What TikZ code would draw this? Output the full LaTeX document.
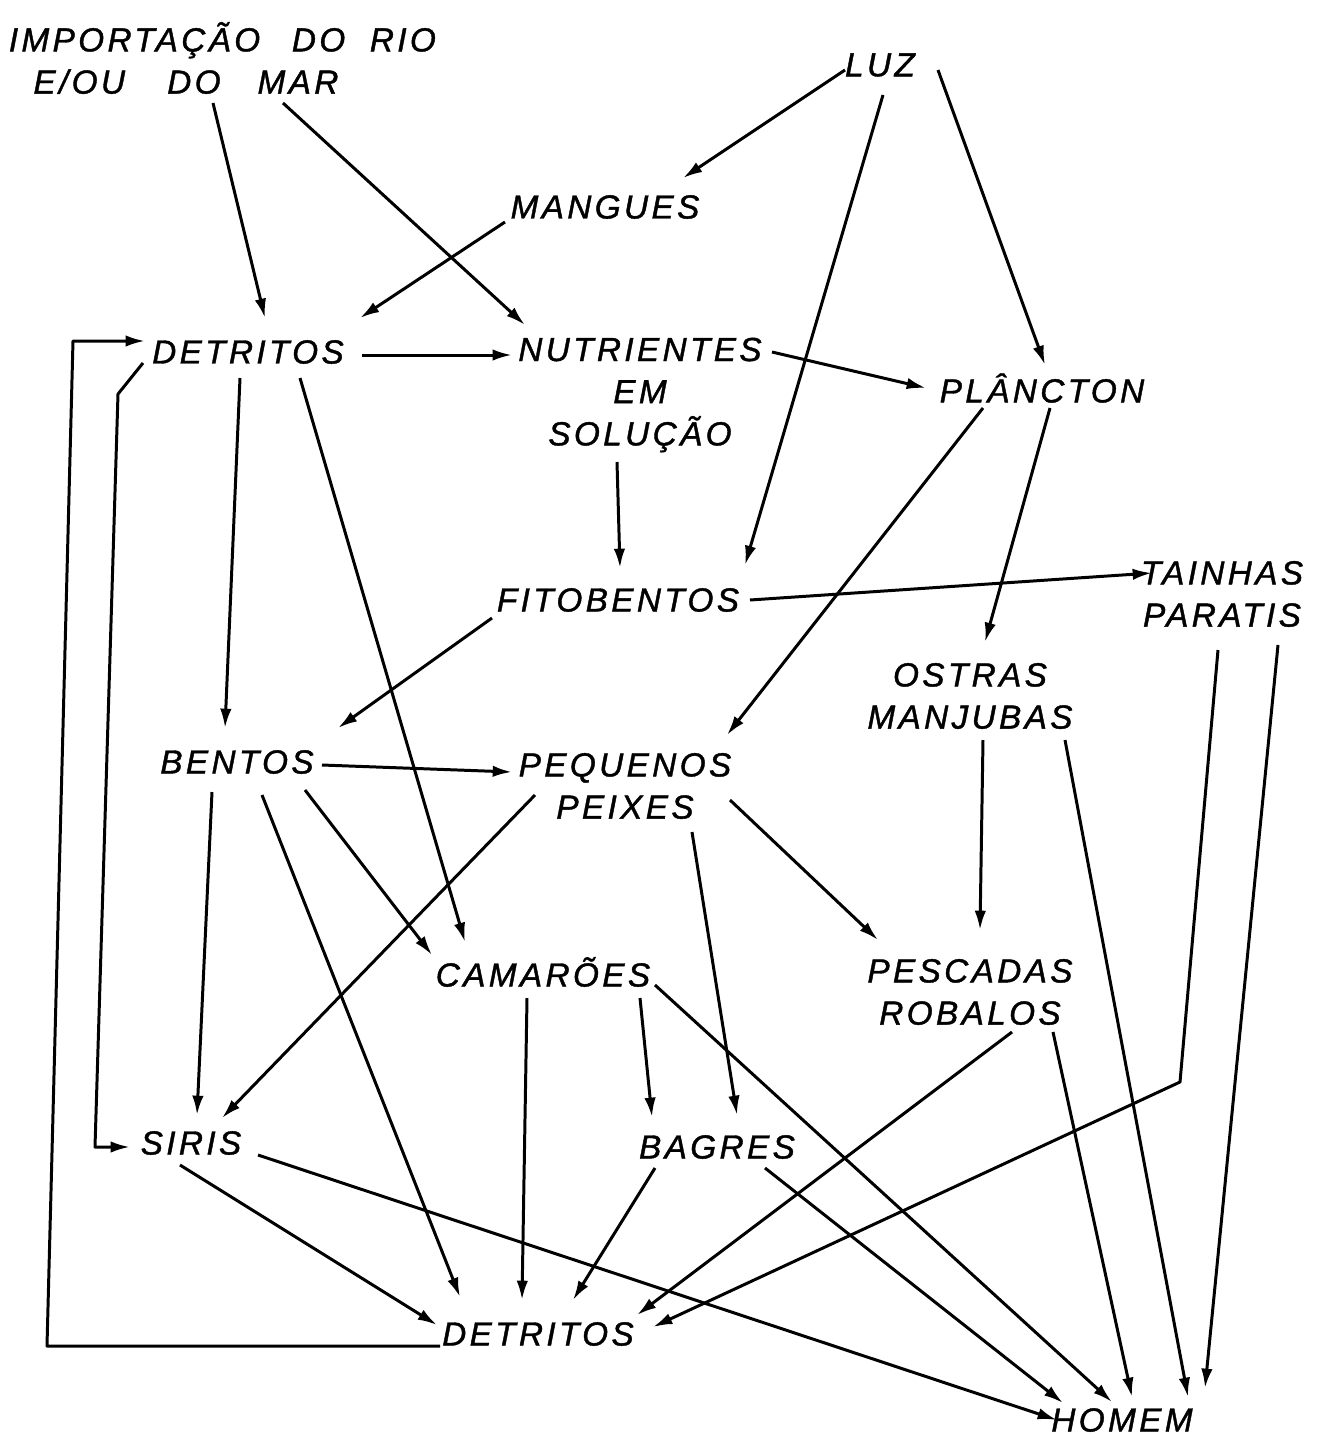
\documentclass[tikz,border=0pt]{standalone}
\usepackage{fontspec}
\setmainfont{Liberation Sans}
\newfontfamily\letrafont{Liberation Sans}[LetterSpace=10, FakeBold=1.2]
\usetikzlibrary{arrows.meta, calc}
\tikzset{
  fw/lbl/.style={font=\letrafont\itshape\fontsize{19}{24}\selectfont,
    align=center, inner sep=2pt},
  fw/arr/.style={-{Latex[length=11pt,width=6.5pt]}, line width=1.7pt,
    line join=round}
}

\begin{document}
\begin{tikzpicture}[x=0.02cm, y=-0.02cm]
  \useasboundingbox (0,0) rectangle (1325,1441);

  % compartimentos
  \node[fw/lbl, align=left, anchor=west] (imp) at (5,58)
        {IMPORTAÇÃO\hspace{18pt}DO\hspace{14pt}RIO\\
         \hspace*{14pt}E/OU\hspace{24pt}DO\hspace{21pt}MAR};
  \node[fw/lbl] (luz)   at (880,65)   {LUZ};
  \node[fw/lbl] (mang)  at (605,207)  {MANGUES};
  \node[fw/lbl] (detA)  at (248,352)  {DETRITOS};
  \node[fw/lbl] (nutr)  at (640,395)  {NUTRIENTES\\EM\\SOLUÇÃO};
  \node[fw/lbl] (planc) at (1042,388) {PLÂNCTON};
  \node[fw/lbl] (fito)  at (618,600)  {FITOBENTOS};
  \node[fw/lbl] (tain)  at (1222,594) {TAINHAS\\PARATIS};
  \node[fw/lbl] (ostr)  at (970,696)  {OSTRAS\\MANJUBAS};
  \node[fw/lbl] (bent)  at (237,762)  {BENTOS};
  \node[fw/lbl] (peq)   at (625,786)  {PEQUENOS\\PEIXES};
  \node[fw/lbl] (cam)   at (543,972)  {CAMARÕES};
  \node[fw/lbl] (pesc)  at (970,992)  {PESCADAS\\ROBALOS};
  \node[fw/lbl] (sir)   at (191,1143) {SIRIS};
  \node[fw/lbl] (bag)   at (717,1147) {BAGRES};
  \node[fw/lbl] (detB)  at (538,1334) {DETRITOS};
  \node[fw/lbl] (hom)   at (1122,1420) {HOMEM};

  % entradas
  \draw[fw/arr] ($(imp.west)+(208,45)$) -- ($(detA)+(17,-34)$);
  \draw[fw/arr] ($(imp.west)+(278,45)$) -- ($(nutr)+(-115,-70)$);
  \draw[fw/arr] ($(luz)+(-35,5)$)  -- ($(mang)+(78,-29)$);
  \draw[fw/arr] ($(luz)+(3,30)$)   -- ($(fito)+(127,-35)$);
  \draw[fw/arr] ($(luz)+(58,5)$)   -- ($(planc)+(3,-23)$);
  \draw[fw/arr] ($(mang)+(-100,15)$) -- ($(detA)+(112,-34)$);

  % detritos e nutrientes
  \draw[fw/arr] ($(detA)+(114,3)$) -- ($(nutr)+(-128,-40)$);
  \draw[fw/arr] ($(nutr)+(132,-43)$) -- ($(planc)+(-116,0)$);
  \draw[fw/arr] ($(nutr)+(-23,67)$) -- ($(fito)+(2,-32)$);
  \draw[fw/arr] ($(detA)+(-8,26)$) -- ($(bent)+(-12,-34)$);
  \draw[fw/arr] ($(detA)+(52,26)$) -- ($(cam)+(-78,-30)$);
  \draw[fw/arr] ($(detA)+(-105,11)$) -- ++(-25,31)
        -- ($(sir)+(-96,4)$) -- ($(sir)+(-61,4)$);
  \draw[fw/arr] ($(detB)+(-98,12)$) -- (47,1346)
        -- ($(detA)+(-175,-11)$) -- ($(detA)+(-103,-11)$);

  % produtores
  \draw[fw/arr] ($(fito)+(132,0)$)   -- ($(tain)+(-70,-21)$);
  \draw[fw/arr] ($(fito)+(-126,18)$) -- ($(bent)+(101,-34)$);
  \draw[fw/arr] ($(planc)+(-59,20)$) -- ($(peq)+(102,-51)$);
  \draw[fw/arr] ($(planc)+(8,20)$)   -- ($(ostr)+(15,-54)$);

  % consumidores
  \draw[fw/arr] ($(bent)+(85,3)$)   -- ($(peq)+(-113,-14)$);
  \draw[fw/arr] ($(bent)+(-25,30)$) -- ($(sir)+(6,-28)$);
  \draw[fw/arr] ($(bent)+(68,28)$)  -- ($(cam)+(-111,-17)$);
  \draw[fw/arr] ($(bent)+(25,33)$)  -- ($(detB)+(-78,-37)$);
  \draw[fw/arr] ($(peq)+(-90,9)$)   -- ($(sir)+(31,-25)$);
  \draw[fw/arr] ($(peq)+(67,46)$)   -- ($(bag)+(20,-32)$);
  \draw[fw/arr] ($(peq)+(105,14)$)  -- ($(pesc)+(-92,-52)$);
  \draw[fw/arr] ($(ostr)+(13,44)$)  -- ($(pesc)+(10,-62)$);
  \draw[fw/arr] ($(ostr)+(95,44)$)  -- ($(hom)+(66,-23)$);
  \draw[fw/arr] ($(tain)+(-4,56)$)  -- ($(tain)+(-42,488)$) -- ($(detB)+(115,-7)$);
  \draw[fw/arr] ($(tain)+(56,51)$)  -- ($(hom)+(83,-32)$);
  \draw[fw/arr] ($(cam)+(-16,26)$)  -- ($(detB)+(-16,-34)$);
  \draw[fw/arr] ($(cam)+(97,26)$)   -- ($(bag)+(-65,-30)$);
  \draw[fw/arr] ($(cam)+(112,13)$)  -- ($(hom)+(-10,-18)$);
  \draw[fw/arr] ($(bag)+(-62,21)$)  -- ($(detB)+(35,-34)$);
  \draw[fw/arr] ($(bag)+(48,21)$)   -- ($(hom)+(-59,-17)$);
  \draw[fw/arr] ($(pesc)+(42,40)$)  -- ($(detB)+(99,-19)$);
  \draw[fw/arr] ($(pesc)+(83,40)$)  -- ($(hom)+(10,-23)$);
  \draw[fw/arr] ($(sir)+(-11,22)$)  -- ($(detB)+(-101,-9)$);
  \draw[fw/arr] ($(sir)+(67,12)$)   -- ($(hom)+(-65,0)$);
\end{tikzpicture}
\end{document}
